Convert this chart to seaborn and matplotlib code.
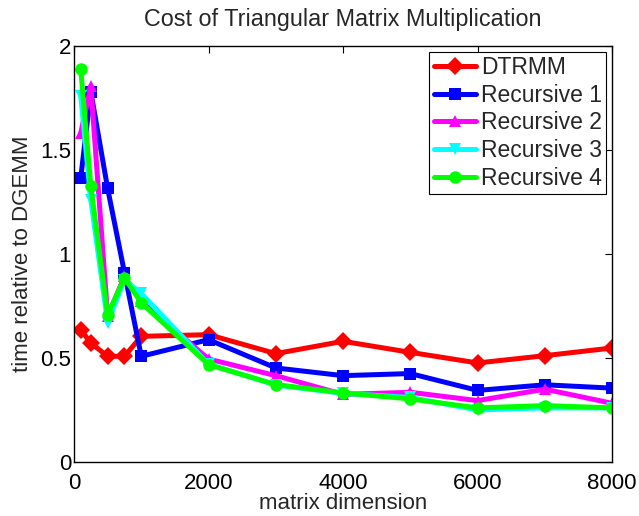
import numpy as np
import pandas as pd
import matplotlib
matplotlib.use("Agg")
import matplotlib.pyplot as plt
import seaborn as sns

# Matrix sizes and time relative to DGEMM for each method
sizes = [100, 250, 500, 750, 1000, 2000, 3000, 4000, 5000, 6000, 7000, 8000]
dtrmm = [0.636, 0.572, 0.508, 0.508, 0.604, 0.612, 0.521, 0.58, 0.527, 0.476, 0.511, 0.548]
recursive1 = [1.365, 1.78, 1.315, 0.91, 0.508, 0.588, 0.452, 0.415, 0.425, 0.344, 0.371, 0.355]
recursive2 = [1.58, 1.806, 0.70, 0.892, 0.772, 0.495, 0.415, 0.325, 0.335, 0.295, 0.35, 0.282]
recursive3 = [1.76, 1.26, 0.67, 0.876, 0.81, 0.47, 0.37, 0.33, 0.31, 0.25, 0.26, 0.26]
recursive4 = [1.89, 1.325, 0.708, 0.885, 0.765, 0.468, 0.372, 0.332, 0.303, 0.26, 0.271, 0.26]

names = ["DTRMM", "Recursive 1", "Recursive 2", "Recursive 3", "Recursive 4"]
series = [dtrmm, recursive1, recursive2, recursive3, recursive4]
colors = ["#ff0000", "#0000ff", "#ff00ff", "#00ffff", "#00ff00"]
markers = ["D", "s", "^", "v", "o"]

df = pd.DataFrame({
    "matrix dimension": np.tile(sizes, len(names)),
    "time": np.concatenate(series),
    "method": np.repeat(names, len(sizes)),
})

sns.set_style("white")
plt.rcParams["font.family"] = ["Liberation Sans", "DejaVu Sans"]

FS = 16

fig = plt.figure(figsize=(6.39, 5.16), dpi=100)
ax = fig.add_axes([0.1158, 0.1047, 0.8422, 0.8063])

sns.lineplot(
    data=df, x="matrix dimension", y="time", hue="method", style="method",
    palette=dict(zip(names, colors)), markers=dict(zip(names, markers)),
    dashes=False, linewidth=3.6, markersize=9, markeredgewidth=0,
    ax=ax, legend=True,
)

ax.set_xlim(0, 8000)
ax.set_ylim(0, 2)
ax.set_xticks([0, 2000, 4000, 6000, 8000])
ax.set_yticks([0, 0.5, 1, 1.5, 2])
ax.set_yticklabels(["0", "0.5", "1", "1.5", "2"])
ax.tick_params(direction="in", length=5, width=0.8, labelsize=FS,
               top=True, right=True, colors="black")
ax.tick_params(axis="x", pad=8)
ax.tick_params(axis="y", pad=2)
for s in ax.spines.values():
    s.set_color("black")
    s.set_linewidth(1.0)

ax.set_xlabel("matrix dimension", fontsize=FS, labelpad=-1)
ax.set_ylabel("time relative to DGEMM", fontsize=FS, labelpad=5)
ax.set_title("Cost of Triangular Matrix Multiplication", fontsize=16.8, pad=14)

leg = ax.legend(loc="upper right", fontsize=16.5, frameon=True, fancybox=False,
                edgecolor="black", framealpha=1, handlelength=1.85,
                handletextpad=0.2, labelspacing=0.2, borderpad=0.2,
                borderaxespad=0.25)
leg.get_frame().set_linewidth(0.8)

fig.savefig("out.png", dpi=100)
